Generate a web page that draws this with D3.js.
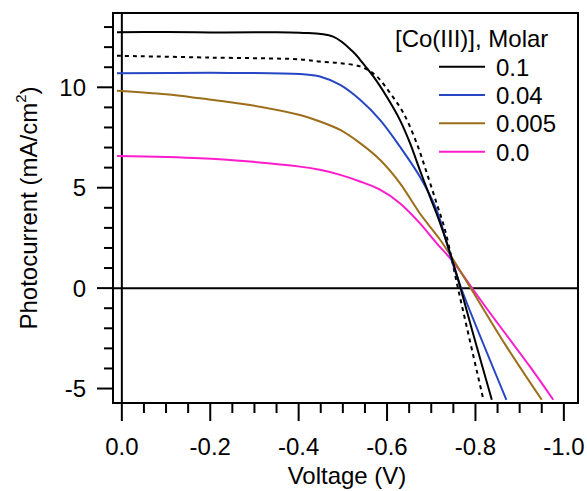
<!DOCTYPE html>
<html><head><meta charset="utf-8">
<script src="https://cdn.jsdelivr.net/npm/d3@7"></script>
<style>body{margin:0;background:#fff}svg{display:block}text{font-family:"Liberation Sans",Arial,sans-serif;fill:#000}</style>
</head><body>
<svg id="c" width="587" height="491"></svg>
<script>
// Data
const seriesNames = ["0.1", "0.04", "0.005", "0.0"];
const legendTitle = "[Co(III)], Molar";

const v01 = [0.011, -0.1, -0.2, -0.3, -0.403, -0.478, -0.523, -0.539, -0.569, -0.599, -0.629, -0.652, -0.674, -0.697, -0.720, -0.738, -0.761, -0.795, -0.837];
const i01 = [12.74, 12.75, 12.73, 12.74, 12.72, 12.52, 11.77, 11.37, 10.54, 9.54, 8.38, 7.22, 5.89, 4.56, 3.24, 2.07, 0.41, -2.3, -5.56];

const v01dot = [0.011, -0.2, -0.403, -0.448, -0.494, -0.539, -0.573, -0.607, -0.637, -0.667, -0.690, -0.712, -0.731, -0.765, -0.818];
const i01dot = [11.57, 11.48, 11.39, 11.28, 11.20, 11.04, 10.62, 9.71, 8.72, 7.22, 5.73, 4.23, 2.90, -0.45, -5.56];

const v004 = [0.011, -0.2, -0.403, -0.448, -0.494, -0.539, -0.584, -0.629, -0.674, -0.712, -0.746, -0.769, -0.870];
const i004 = [10.70, 10.72, 10.66, 10.54, 10.12, 9.38, 8.38, 7.05, 5.56, 3.90, 1.41, -0.08, -5.56];

const v0005 = [0.011, -0.1, -0.177, -0.29, -0.403, -0.448, -0.494, -0.539, -0.584, -0.629, -0.674, -0.720, -0.746, -0.787, -0.870, -0.950];
const i0005 = [9.83, 9.65, 9.45, 9.12, 8.62, 8.30, 7.88, 7.22, 6.39, 5.23, 3.73, 2.41, 1.55, 0.08, -2.9, -5.56];

const v00 = [0.011, -0.177, -0.29, -0.403, -0.448, -0.494, -0.539, -0.584, -0.629, -0.674, -0.712, -0.750, -0.795, -0.833, -0.923, -0.976];
const i00 = [6.58, 6.47, 6.30, 6.05, 5.89, 5.64, 5.31, 4.90, 4.23, 3.24, 2.24, 1.3, -0.08, -1.24, -3.9, -5.56];

const xMajorTicks = [0, -0.2, -0.4, -0.6, -0.8, -1.0];
const xTickLabels = ["0.0", "-0.2", "-0.4", "-0.6", "-0.8", "-1.0"];
const yMajorTicks = [-5, 0, 5, 10];
const yTickLabels = ["-5", "0", "5", "10"];

const colors = ["#000000", "#2646c4", "#9c6e1c", "#ff1ccc"];

// Layout
const L = 113, R = 578, T = 13, B = 403;
const x = d3.scaleLinear().domain([0.02, -1.032]).range([L, R]);
const y = d3.scaleLinear().domain([-5.72, 13.7]).range([B, T]);

const svg = d3.select("#c");
const g = svg.append("g");

// zero lines
g.append("line").attr("x1", L).attr("x2", R).attr("y1", y(0)).attr("y2", y(0))
  .attr("stroke", "#000").attr("stroke-width", 2);
g.append("line").attr("x1", x(0)).attr("x2", x(0)).attr("y1", T).attr("y2", B)
  .attr("stroke", "#000").attr("stroke-width", 2);

// curves
const line = d3.line().x(d => x(d[0])).y(d => y(d[1])).curve(d3.curveCatmullRom.alpha(0.5));
const zip = (a, b) => a.map((v, k) => [v, b[k]]);
const curves = [
  {d: zip(v01dot, i01dot), c: "#000", dash: "4,4"},
  {d: zip(v00, i00), c: colors[3]},
  {d: zip(v0005, i0005), c: colors[2]},
  {d: zip(v004, i004), c: colors[1]},
  {d: zip(v01, i01), c: colors[0]}
];
curves.forEach(s => {
  g.append("path").attr("d", line(s.d)).attr("fill", "none")
    .attr("stroke", s.c).attr("stroke-width", 2)
    .attr("stroke-dasharray", s.dash || null);
});

// frame
g.append("rect").attr("x", L).attr("y", T).attr("width", R - L).attr("height", B - T)
  .attr("fill", "none").attr("stroke", "#000").attr("stroke-width", 2);

// x axis ticks
const xMinor = d3.range(0, 21).map(k => -k * 0.05);
xMinor.forEach(v => {
  const major = xMajorTicks.some(m => Math.abs(m - v) < 1e-6);
  g.append("line").attr("x1", x(v)).attr("x2", x(v)).attr("y1", B).attr("y2", B + (major ? 18 : 10))
    .attr("stroke", "#000").attr("stroke-width", 2);
});
xMajorTicks.forEach((v, k) => {
  g.append("text").attr("x", x(v)).attr("y", 455).attr("text-anchor", "middle")
    .style("font-size", "24px").text(xTickLabels[k]);
});

// y axis ticks
d3.range(-5, 14).forEach(v => {
  const major = yMajorTicks.includes(v);
  g.append("line").attr("x1", L - (major ? 16 : 9)).attr("x2", L).attr("y1", y(v)).attr("y2", y(v))
    .attr("stroke", "#000").attr("stroke-width", 2);
});
yMajorTicks.forEach((v, k) => {
  g.append("text").attr("x", 86).attr("y", y(v)).attr("dy", "0.36em").attr("text-anchor", "end")
    .style("font-size", "24px").text(yTickLabels[k]);
});

// axis titles
svg.append("text").attr("x", 347).attr("y", 484).attr("text-anchor", "middle")
  .style("font-size", "24px").text("Voltage (V)");
const yl = svg.append("text").attr("transform", "translate(37,208) rotate(-90)")
  .attr("text-anchor", "middle").style("font-size", "24px");
yl.append("tspan").text("Photocurrent (mA/cm");
yl.append("tspan").attr("dy", -11).style("font-size", "15px").text("2");
yl.append("tspan").attr("dy", 11).text(")");

// legend
svg.append("text").attr("x", 395).attr("y", 47).style("font-size", "24px").text(legendTitle);
seriesNames.forEach((n, k) => {
  const ly = 66.7 + k * 28.33;
  svg.append("line").attr("x1", 439).attr("x2", 485).attr("y1", ly).attr("y2", ly)
    .attr("stroke", colors[k]).attr("stroke-width", 2);
  svg.append("text").attr("x", 496).attr("y", ly + 9).style("font-size", "24px").text(n);
});
</script>
</body></html>
